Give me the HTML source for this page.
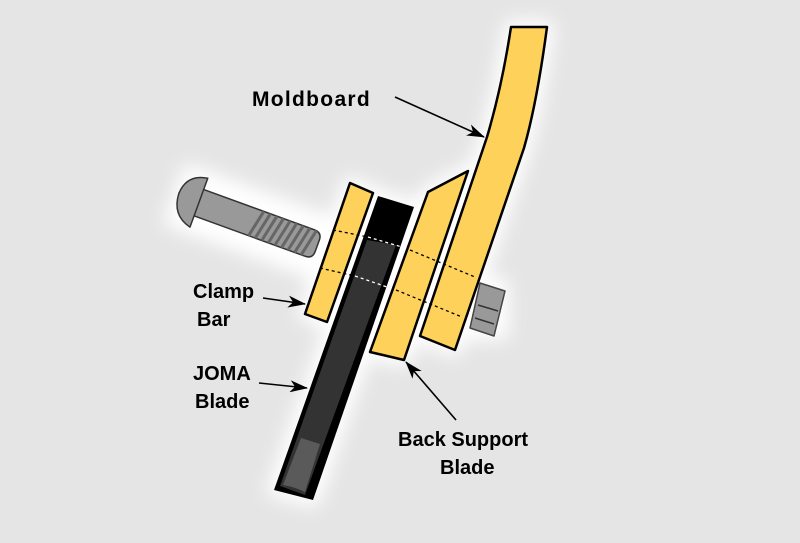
<!DOCTYPE html>
<html><head><style>html,body{margin:0;padding:0;background:#e5e5e5;}svg{display:block}</style></head>
<body>
<svg width="800" height="543" viewBox="0 0 800 543" xmlns="http://www.w3.org/2000/svg">
<defs>
<filter id="glow" x="-20%" y="-20%" width="140%" height="140%"><feGaussianBlur stdDeviation="9"/></filter>
<marker id="ah" markerWidth="18" markerHeight="12" refX="17" refY="6" orient="auto" markerUnits="userSpaceOnUse"><path d="M0,0 L18,6 L0,12 L5,6 Z" fill="#000"/></marker>
</defs>
<rect width="800" height="543" fill="#e5e5e5"/>
<g filter="url(#glow)" fill="#fff" stroke="#fff" stroke-width="14" stroke-linejoin="round">
<path d="M511,27 L547,27 C540,80 532,120 524,148 L455,350 L420,336 L487,137 C498,100 506,60 511,27 Z"/>
<path d="M428,192 L468,171 L404,360 L370,352 Z"/>
<path d="M378,196 L414,207 L313,500 L274,490 Z"/>
<path d="M350,183 L373,193 L327,322 L305,314 Z"/>
<g transform="translate(197,202) rotate(20)"><rect x="-18" y="-26" width="146" height="52"/></g>
<rect x="472" y="285" width="30" height="48"/>
</g>
<path d="M511,27 L547,27 C540,80 532,120 524,148 L455,350 L420,336 L487,137 C498,100 506,60 511,27 Z" fill="#fdd15a" stroke="#000" stroke-width="2.5" stroke-linejoin="round"/>
<path d="M428,192 L468,171 L404,360 L370,352 Z" fill="#fdd15a" stroke="#000" stroke-width="2.5" stroke-linejoin="round"/>
<path d="M378,196 L414,207 L313,500 L274,490 Z" fill="#000"/>
<path d="M367,240 L396,245 L305,495 L280,486 Z" fill="#333"/>
<path d="M301,438 L320,444 L305,492 C295,487 288,486 283,485 Z" fill="#5a5a5a"/>
<path d="M350,183 L373,193 L327,322 L305,314 Z" fill="#fdd15a" stroke="#000" stroke-width="2.5" stroke-linejoin="round"/>
<g stroke="#000" stroke-width="1.3" stroke-dasharray="3,3">
<line x1="333" y1="230" x2="368" y2="237"/><line x1="410" y1="250" x2="475" y2="277"/>
<line x1="320" y1="268" x2="355" y2="276"/><line x1="396" y1="290" x2="462" y2="317"/>
</g>
<g stroke="#fff" stroke-width="1.3" stroke-dasharray="3,3">
<line x1="368" y1="237" x2="402" y2="247"/><line x1="355" y1="276" x2="390" y2="288"/>
</g>
<g transform="translate(197,202) rotate(20)">
<path d="M0,-14 L120,-14 Q128,-14 128,-6 L128,6 Q128,14 120,14 L0,14 Z" fill="#999" stroke="#333" stroke-width="1.5"/>
<g stroke="#666" stroke-width="3">
<line x1="60" y1="14" x2="66" y2="-14"/><line x1="67" y1="14" x2="73" y2="-14"/><line x1="74" y1="14" x2="80" y2="-14"/><line x1="81" y1="14" x2="87" y2="-14"/><line x1="88" y1="14" x2="94" y2="-14"/><line x1="95" y1="14" x2="101" y2="-14"/><line x1="102" y1="14" x2="108" y2="-14"/><line x1="109" y1="14" x2="115" y2="-14"/><line x1="116" y1="14" x2="122" y2="-14"/>
</g>
<path d="M2,-26 Q-19,-23 -20,-2 Q-19,21 2,26 Z" fill="#999" stroke="#333" stroke-width="1.5" stroke-linejoin="round"/>
</g>
<path d="M480,283 L505,291 L494,336 L470,328 Z" fill="#999" stroke="#444" stroke-width="1.5" stroke-linejoin="round"/>
<line x1="478" y1="305" x2="498" y2="311" stroke="#333" stroke-width="1.5"/>
<line x1="475" y1="318" x2="494" y2="324" stroke="#333" stroke-width="1.5"/>
<g stroke="#000" stroke-width="1.6" marker-end="url(#ah)">
<line x1="395" y1="97" x2="484" y2="137"/>
<line x1="263" y1="298" x2="305" y2="304"/>
<line x1="259" y1="383" x2="307" y2="388"/>
<line x1="456" y1="420" x2="406" y2="362"/>
</g>
<g font-family="Liberation Sans, sans-serif" font-weight="bold" font-size="20" fill="#000">
<text x="252" y="106" font-size="21" letter-spacing="1.3">Moldboard</text>
<text x="193" y="298">Clamp</text>
<text x="197" y="326">Bar</text>
<text x="193" y="380">JOMA</text>
<text x="195" y="408">Blade</text>
<text x="398" y="446">Back Support</text>
<text x="440" y="474">Blade</text>
</g>
</svg>
</body></html>
